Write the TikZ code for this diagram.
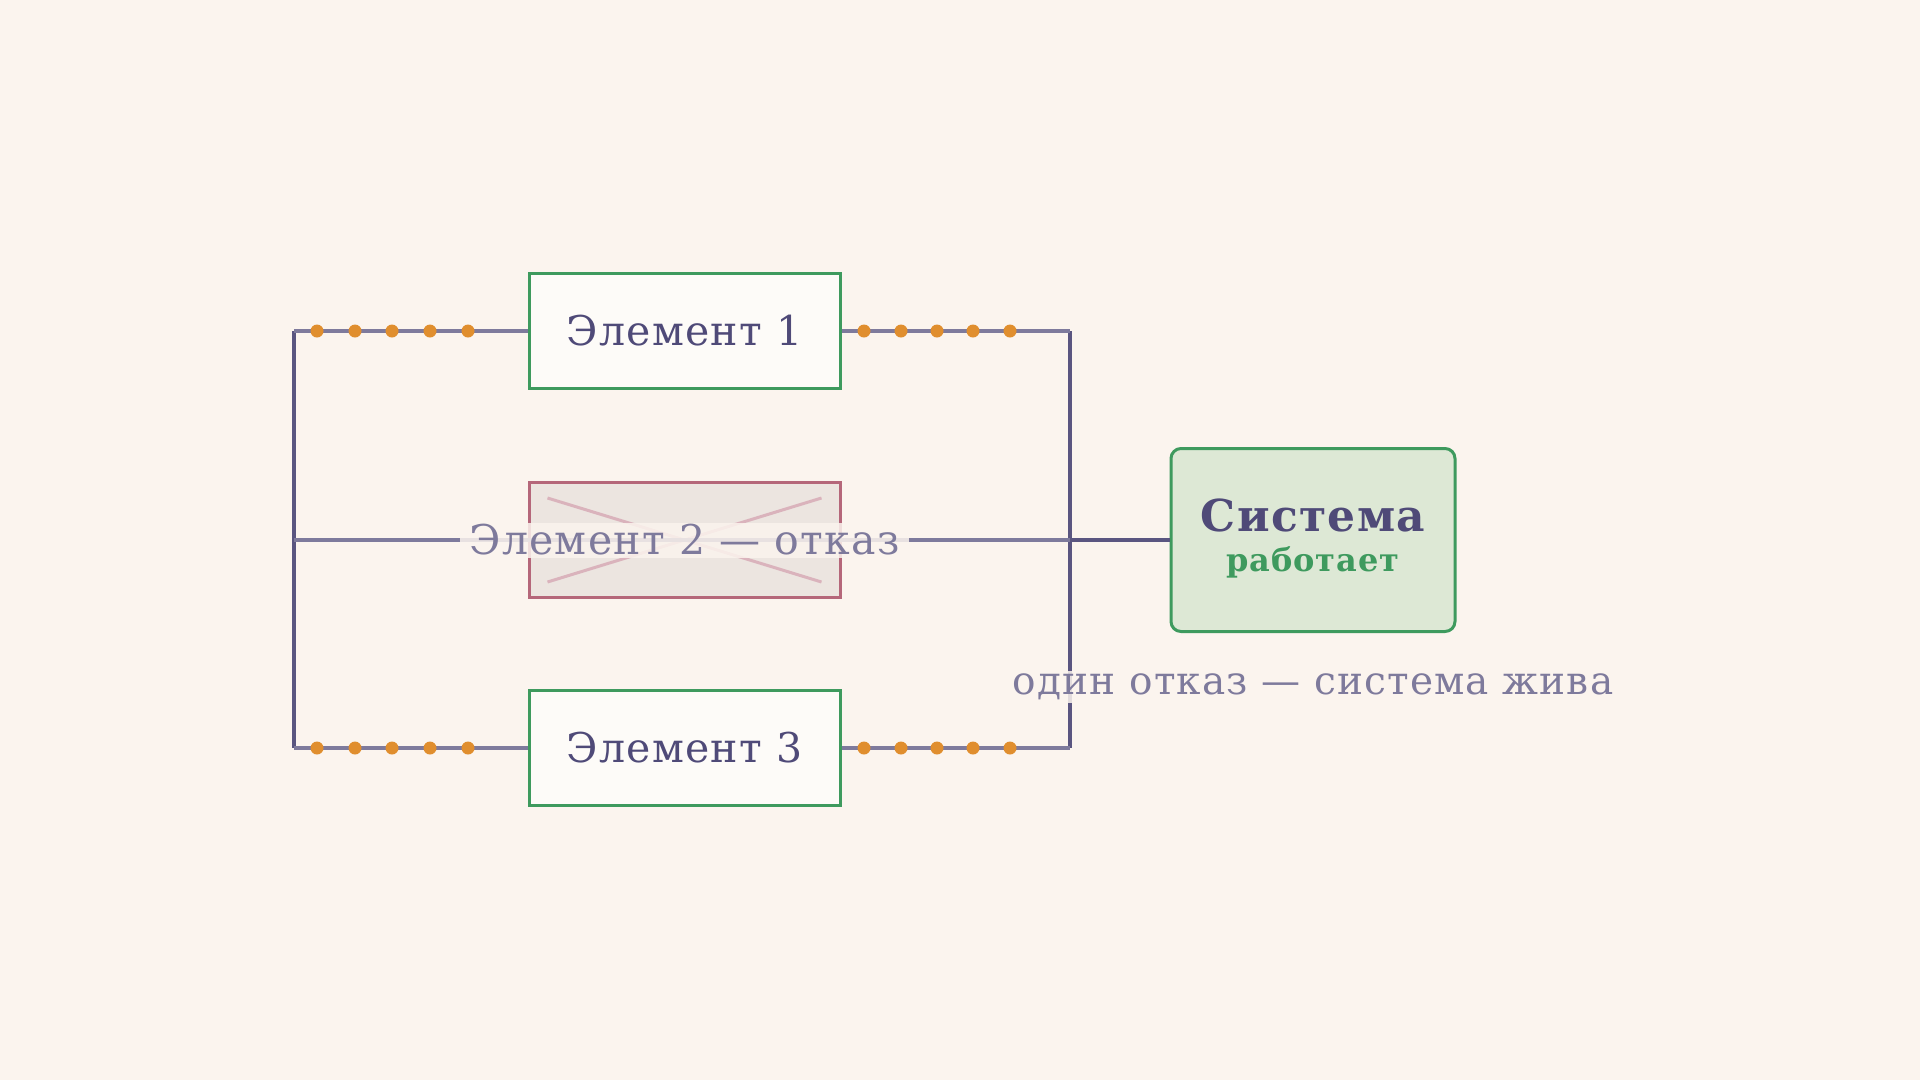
\documentclass[tikz,border=0pt]{standalone}
\usepackage{fontspec}
\setmainfont{DejaVu Serif}[LetterSpace=3]
\usetikzlibrary{positioning}
\definecolor{bgcol}{HTML}{FBF4EE}
\definecolor{buscol}{HTML}{5A5580}
\definecolor{wirecol}{HTML}{7E7A9C}
\definecolor{inkcol}{HTML}{4F4A78}
\definecolor{okcol}{HTML}{3E9A5E}
\definecolor{okfill}{HTML}{DDE8D5}
\definecolor{failcol}{HTML}{B5677A}
\definecolor{dotcol}{HTML}{E08E2E}
\tikzset{
  elem/.style={draw=okcol, fill=white!60!bgcol, line width=3pt, minimum width=311pt,
               minimum height=115pt, text=inkcol, font=\fontsize{41}{43}\selectfont},
  wire/.style={draw=wirecol, line width=4.5pt},
  bus/.style={draw=buscol, line width=4pt},
  flow/.style={fill=dotcol, circle, inner sep=0pt, minimum size=13pt},
}
\begin{document}
\begin{tikzpicture}[x=1pt,y=-1pt]
    \useasboundingbox[fill=bgcol] (0,0) rectangle (1920,1080);
    % elements
    \node[elem] (e1) at (684.5,331) {Элемент 1};
    \node[elem, draw=failcol, fill=black!6!bgcol] (e2) at (684.5,540) {};
    \node[elem] (e3) at (684.5,748) {Элемент 3};
    \draw[failcol!50, line width=3pt] ([shift={(20pt,-17pt)}]e2.north west) -- ([shift={(-20pt,17pt)}]e2.south east);
    \draw[failcol!50, line width=3pt] ([shift={(20pt,17pt)}]e2.south west) -- ([shift={(-20pt,-17pt)}]e2.north east);
    % buses
    \coordinate (lt) at (294,331);
    \coordinate (lb) at (294,748);
    \coordinate (rt) at (1070,331);
    \coordinate (rb) at (1070,748);
    \coordinate (lm) at (294,540);
    \coordinate (rm) at (1070,540);
    \draw[bus] (lt) -- (lb);
    \draw[bus] (rt) -- (rb);
    \draw[wire] (lt) -- (e1.west);
    \draw[wire] (lb) -- (e3.west);
    \draw[wire] (e1.east) -- (rt);
    \draw[wire] (e3.east) -- (rb);
    \draw[wire] (lm) -- (rm);
    % system
    \node[draw=okcol, fill=okfill, line width=3pt, rounded corners=10pt, minimum width=284pt,
          minimum height=183pt] (sys) at (1313,540) {};
    \node[font=\bfseries\fontsize{44}{46}\selectfont, text=inkcol] (sysname) at (1313,515) {Система};
    \node[font=\bfseries\fontsize{32}{34}\selectfont, text=okcol] (sysstate) at (1313,562) {работает};
    \draw[bus] (rm) -- (sys.west);
    % flow dots
    \foreach \x in {317,355,392,430,468} {
      \node[flow] at (\x,331) {};
      \node[flow] at (\x,748) {};
    }
    \foreach \x in {864,901,937,973,1010} {
      \node[flow] at (\x,331) {};
      \node[flow] at (\x,748) {};
    }
    % labels
    \node[fill=bgcol, fill opacity=.85, text opacity=1, text=wirecol, inner xsep=10pt, inner ysep=2pt,
          font=\fontsize{41}{43}\selectfont] (e2l) at (e2) {Элемент 2 — отказ};
    \node[fill=bgcol, fill opacity=.85, text opacity=1, text=wirecol, inner sep=3pt,
          font=\fontsize{39}{41}\selectfont] (note) at (1313,687) {один отказ — система жива};
\end{tikzpicture}
\end{document}
